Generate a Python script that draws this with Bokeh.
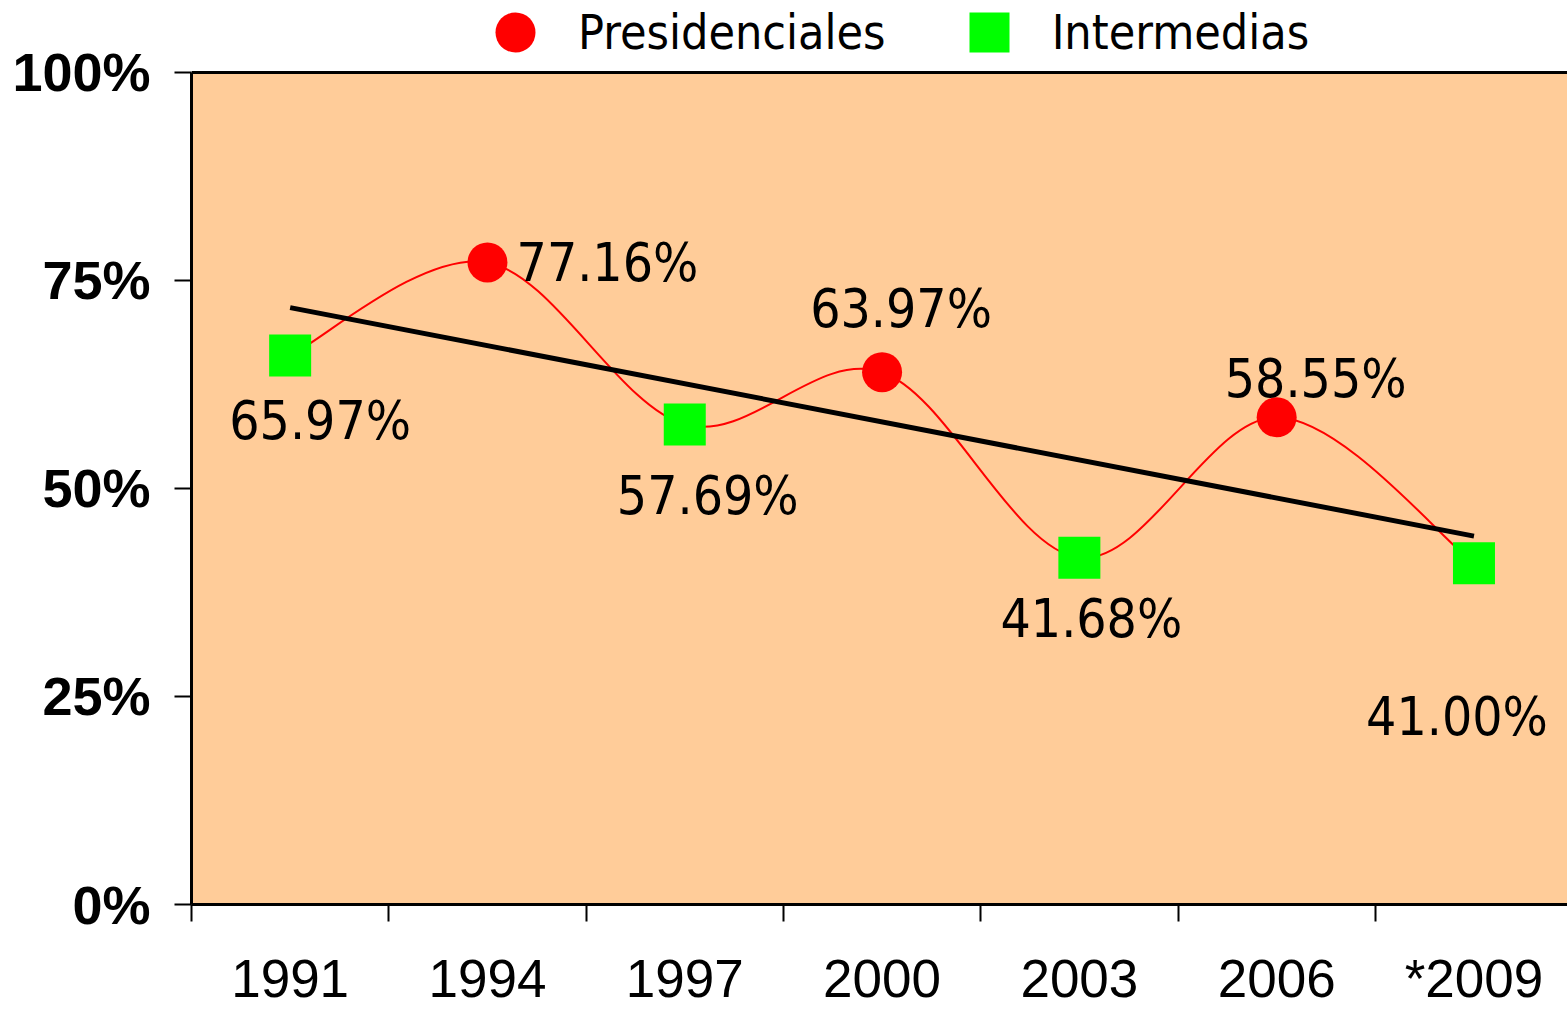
import numpy as np
from bokeh.plotting import figure
from bokeh.models import (Range1d, FixedTicker, BoxAnnotation, Span, Legend,
                          LegendItem, ColumnDataSource)
from bokeh.embed import file_html
from bokeh.resources import INLINE
from bokeh.core.properties import value

# ---------------- data ----------------
years = ["1991", "1994", "1997", "2000", "2003", "2006", "*2009"]
participation = [65.97, 77.16, 57.69, 63.97, 41.68, 58.55, 41.00]
election_type = ["Intermedias", "Presidenciales", "Intermedias", "Presidenciales",
                 "Intermedias", "Presidenciales", "Intermedias"]
y_ticks = [0, 25, 50, 75, 100]

# ---------------- style (label placement in screen px, + = down) ----------------
label_dx = [30, 120, 23, 19, 12, 39, -17]
label_dy = [65, 0, 71, -64, 61, -39, 153]

NARROW = "'Liberation Sans Narrow', 'DejaVu Sans Condensed', sans-serif"
ARIAL = "'Liberation Sans', Arial, sans-serif"

n = len(years)
xi = np.arange(n, dtype=float)
yv = np.array(participation, dtype=float)

p = figure(width=1567, height=1010, output_backend="svg", toolbar_location=None,
           x_range=Range1d(-0.5, 6.474), y_range=Range1d(0, 108.64),
           min_border_left=191, min_border_right=0, min_border_top=0,
           min_border_bottom=105)
p.outline_line_color = None
p.background_fill_color = "white"
p.border_fill_color = "white"
p.xgrid.visible = False
p.ygrid.visible = False

# plot area fill (0..100 %)
p.add_layout(BoxAnnotation(bottom=y_ticks[0], top=y_ticks[-1], fill_color="#FFCC99",
                           fill_alpha=1.0, line_color=None, level="underlay"))
p.add_layout(Span(location=y_ticks[-1], dimension="width", line_color="black",
                  line_width=3, level="underlay"))

# smoothed line (Catmull-Rom style cubic Beziers through the points)
px = np.concatenate([[xi[0]], xi, [xi[-1]]])
py = np.concatenate([[yv[0]], yv, [yv[-1]]])
bz = dict(x0=[], y0=[], x1=[], y1=[], cx0=[], cy0=[], cx1=[], cy1=[])
for i in range(n - 1):
    P0 = (px[i], py[i]); P1 = (px[i + 1], py[i + 1])
    P2 = (px[i + 2], py[i + 2]); P3 = (px[i + 3], py[i + 3])
    bz["x0"].append(P1[0]); bz["y0"].append(P1[1])
    bz["x1"].append(P2[0]); bz["y1"].append(P2[1])
    bz["cx0"].append(P1[0] + (P2[0] - P0[0]) / 6); bz["cy0"].append(P1[1] + (P2[1] - P0[1]) / 6)
    bz["cx1"].append(P2[0] - (P3[0] - P1[0]) / 6); bz["cy1"].append(P2[1] - (P3[1] - P1[1]) / 6)
p.bezier(x0="x0", y0="y0", x1="x1", y1="y1", cx0="cx0", cy0="cy0", cx1="cx1", cy1="cy1",
         source=ColumnDataSource(bz), line_color="#FF0000", line_width=2)

# linear trend line
slope, intercept = np.polyfit(xi, yv, 1)
tx = [xi[0], xi[-1]]
p.line(tx, [intercept + slope * t for t in tx], line_color="black", line_width=5)

# markers
def subset(kind):
    idx = [i for i, k in enumerate(election_type) if k == kind]
    return ColumnDataSource(dict(x=[xi[i] for i in idx], y=[yv[i] for i in idx]))

r_int = p.scatter("x", "y", source=subset("Intermedias"), marker="square", size=42,
                  fill_color="#00FF00", line_color=None)
r_pres = p.scatter("x", "y", source=subset("Presidenciales"), marker="circle", size=40,
                   fill_color="#FF0000", line_color=None)

# data labels
lab = ColumnDataSource(dict(x=xi, y=yv, t=[f"{v:.2f}%" for v in participation],
                            dx=label_dx, dy=label_dy))
p.text("x", "y", text="t", source=lab, x_offset="dx", y_offset="dy",
       text_font=value(NARROW), text_font_size="53px", text_align="center",
       text_baseline="middle", text_color="black")

# axes
ax = p.xaxis[0]
ax.ticker = FixedTicker(ticks=list(xi), minor_ticks=list(xi - 0.5) + [xi[-1] + 0.5])
ax.major_label_overrides = {float(i): y for i, y in zip(xi, years)}
ax.major_label_overrides.update({int(i): y for i, y in zip(xi, years)})
ax.major_tick_line_color = None
ax.major_tick_out = 0
ax.major_tick_in = 0
ax.minor_tick_out = 17
ax.minor_tick_in = 0
ax.minor_tick_line_color = "black"
ax.minor_tick_line_width = 2
ax.axis_line_width = 3
ax.major_label_standoff = 27
ax.major_label_text_font = ARIAL
ax.major_label_text_font_size = "53px"
ax.major_label_text_color = "black"

ay = p.yaxis[0]
ay.ticker = FixedTicker(ticks=y_ticks)
ay.major_label_overrides = {t: f"{t}%" for t in y_ticks}
ay.bounds = (y_ticks[0], y_ticks[-1])
ay.minor_tick_line_color = None
ay.major_tick_out = 17
ay.major_tick_in = 0
ay.major_tick_line_width = 2
ay.axis_line_width = 3
ay.major_label_standoff = 24
ay.major_label_text_font = ARIAL
ay.major_label_text_font_style = "bold"
ay.major_label_text_font_size = "54px"
ay.major_label_text_color = "black"

# legend across the top
legend = Legend(items=[LegendItem(label="Presidenciales", renderers=[r_pres]),
                       LegendItem(label="Intermedias", renderers=[r_int])],
                orientation="horizontal", location=(274, 822),
                glyph_width=100, glyph_height=100, label_standoff=13, spacing=53,
                padding=0, margin=0, border_line_color=None, background_fill_alpha=0,
                label_text_font=NARROW, label_text_font_size="48px",
                label_text_color="black")
p.add_layout(legend)

open("out.html", "w").write(file_html(p, INLINE))
